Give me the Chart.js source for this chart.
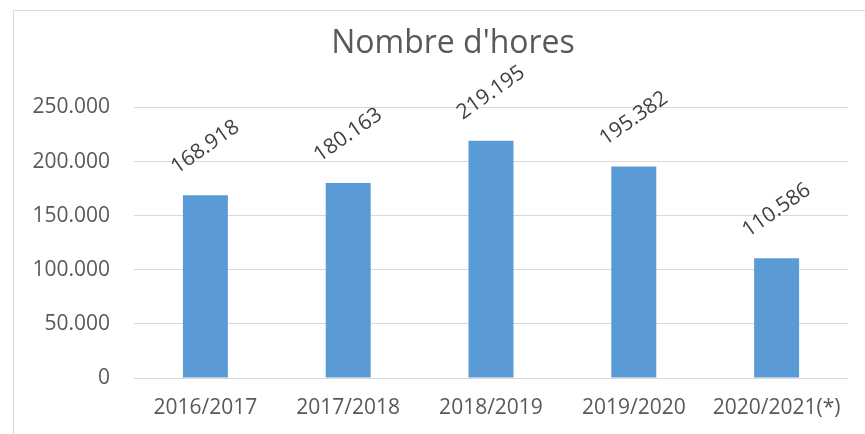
<!DOCTYPE html>
<html>
<head>
<meta charset="utf-8">
<script src="https://cdn.jsdelivr.net/npm/chart.js@4/dist/chart.umd.min.js"></script>
<style>
  html, body { margin: 0; padding: 0; background: #ffffff; }
  #wrap { width: 865px; height: 434px; position: relative; }
</style>
</head>
<body>
<div id="wrap"><canvas id="grafic"></canvas></div>
<script>
// dades del gràfic
const cursos = ["2016/2017", "2017/2018", "2018/2019", "2019/2020", "2020/2021(*)"];
const hores = [168918, 180163, 219195, 195382, 110586];
const titol = "Nombre d'hores";

function ambPunts(v) {
    return v.toString().replace(/\B(?=(\d{3})+(?!\d))/g, ".");
}

// etiquetes girades damunt de cada barra
const etiquetes = {
    id: "etiquetes",
    afterDatasetsDraw(chart) {
        const ctx = chart.ctx;
        const meta = chart.getDatasetMeta(0);
        ctx.save();
        ctx.font = "21px 'Open Sans'";
        ctx.fillStyle = "#404040";
        ctx.textAlign = "center";
        ctx.textBaseline = "middle";
        meta.data.forEach((bar, i) => {
            ctx.save();
            ctx.translate(bar.x, bar.y - 48);
            ctx.rotate(-35 * Math.PI / 180);
            ctx.fillText(ambPunts(hores[i]), 0, 0);
            ctx.restore();
        });
        ctx.restore();
    }
};

// vora del quadre i títol centrat com a l'original
const vora = {
    id: "vora",
    afterLayout(chart) {
        const t = chart.titleBlock;
        if (t) { t.left = 58; t.right = 848; }
    },
    beforeDraw(chart) {
        const ctx = chart.ctx;
        ctx.save();
        ctx.strokeStyle = "#d9d9d9";
        ctx.lineWidth = 1;
        ctx.beginPath();
        ctx.moveTo(13.5, 434);
        ctx.lineTo(13.5, 10.5);
        ctx.lineTo(865, 10.5);
        ctx.stroke();
        ctx.restore();
    }
};

const ctx = document.getElementById("grafic").getContext("2d");
new Chart(ctx, {
    type: "bar",
    data: {
        labels: cursos,
        datasets: [{
            label: titol,
            data: hores,
            backgroundColor: "#5b9bd5",
            barPercentage: 0.315,
            categoryPercentage: 1
        }]
    },
    options: {
        responsive: true,
        maintainAspectRatio: false,
        animation: false,
        layout: { padding: { left: 0, right: 17, top: 10, bottom: 15 } },
        plugins: {
            legend: { display: false },
            tooltip: { enabled: false },
            title: {
                display: true,
                text: titol,
                color: "#595959",
                font: { family: "'Open Sans'", size: 32, weight: "normal" },
                padding: { top: 15, bottom: 44 }
            }
        },
        scales: {
            x: {
                grid: { display: false, drawTicks: false },
                border: { display: false },
                ticks: {
                    color: "#595959",
                    font: { family: "'Open Sans'", size: 21 },
                    padding: 17,
                    maxRotation: 0
                },
                afterFit(scale) { scale.height = 41; }
            },
            y: {
                min: 0,
                max: 250000,
                grid: { color: "#d9d9d9", drawTicks: false },
                border: { display: false },
                ticks: {
                    stepSize: 50000,
                    color: "#595959",
                    font: { family: "'Open Sans'", size: 21 },
                    padding: 24,
                    callback: v => ambPunts(v)
                },
                afterFit(scale) { scale.width = 134; }
            }
        }
    },
    plugins: [etiquetes, vora]
});
</script>
</body>
</html>
